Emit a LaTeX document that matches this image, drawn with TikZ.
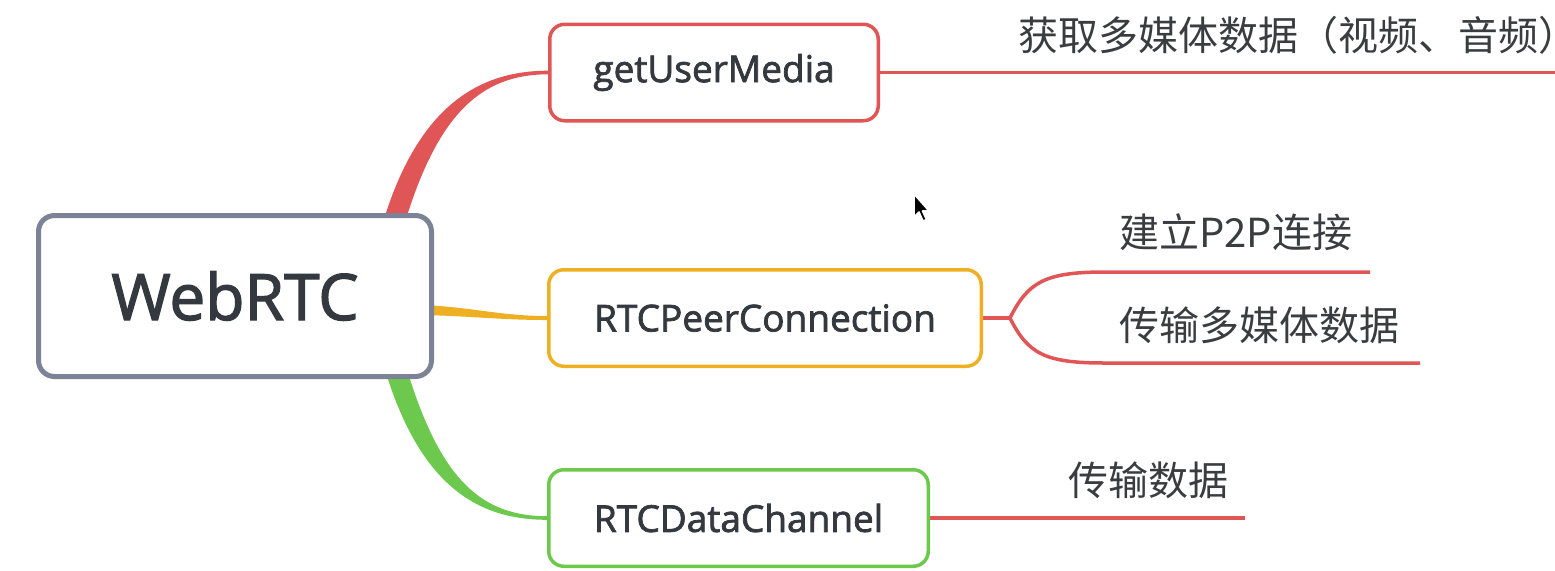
\documentclass[tikz,border=0pt]{standalone}
\usepackage{fontspec}
\setmainfont{Open Sans}[FakeBold=2]
\newfontfamily\labelfont{Open Sans}[FakeBold=2]
\newfontfamily\cjk{Noto Sans CJK SC}
\usetikzlibrary{calc,backgrounds}
\definecolor{redc}{HTML}{E05555}
\definecolor{orangec}{HTML}{EEB022}
\definecolor{greenc}{HTML}{6CC94E}
\definecolor{grayc}{HTML}{7D8397}
\definecolor{txt}{HTML}{34383F}
\definecolor{leaftxt}{HTML}{3A3C40}
\begin{document}
\begin{tikzpicture}[x=0.5pt,y=-0.5pt,
  box/.style={draw, rounded corners=7.5pt, fill=white, line width=1.75pt,
    minimum height=48.25pt, text=txt, inner sep=0pt,
    font=\labelfont\fontsize{18.5pt}{22pt}\selectfont},
  leaf/.style={anchor=base west, inner sep=0pt, text=leaftxt,
    font=\cjk\fontsize{20pt}{24pt}\selectfont},
  branch/.style={draw=redc, line width=1.75pt},
  cursorshape/.style={fill=black, draw=white, line width=0.8pt, line join=round}]
\useasboundingbox (0,0) rectangle (1555,570);

% nodes
\node[box, draw=grayc, line width=2.5pt, rounded corners=8pt,
  minimum width=196.5pt, minimum height=80.5pt,
  font=\labelfont\fontsize{32pt}{38pt}\selectfont] (root) at (235,296) {WebRTC};
\node[box, draw=redc, minimum width=164.25pt] (gum) at (714,72.5) {getUserMedia};
\node[box, draw=orangec, minimum width=216.25pt] (pc) at (765,318) {RTCPeerConnection};
\node[box, draw=greenc, minimum width=189.75pt] (dc) at (738.5,518) {RTCDataChannel};

% leaf texts
\node[leaf] (t1) at (1018,50) {获取多媒体数据（视频、音频）};
\node[leaf] (t2) at (1119,247) {建立P2P连接};
\node[leaf] (t3) at (1119,340) {传输多媒体数据};
\node[leaf] (t4) at (1068,495) {传输数据};

\coordinate (gumEnd) at (1560,72.5);
\coordinate (fork) at (1010,318);
\coordinate (pcA) at (1370,272);
\coordinate (pcB) at (1420,363);
\coordinate (dcEnd) at (1245,518);

\begin{pgfonlayer}{background}
\fill[white] (0,0) rectangle (1555,570);
% main tapered connectors
\fill[redc] ($(root.north east)+(-50,6)$) .. controls +(35,-112) and +(-70,0) ..
  ($(gum.west)+(0,-1.8)$) -- ($(gum.west)+(0,1.8)$) .. controls +(-66,0) and +(33,-106) ..
  ($(root.north east)+(-28,6)$) -- cycle;
\fill[greenc] ($(root.south east)+(-48,-6)$) .. controls +(35,112) and +(-70,0) ..
  ($(dc.west)+(0,1.8)$) -- ($(dc.west)+(0,-1.8)$) .. controls +(-66,0) and +(33,106) ..
  ($(root.south east)+(-26,-6)$) -- cycle;
\fill[orangec] ($(root.east)+(-12,9)$) .. controls +(50,2) and +(-47,0) ..
  ($(pc.west)+(0,-2)$) -- ($(pc.west)+(0,2)$) .. controls +(-47,0) and +(50,1) ..
  ($(root.east)+(-12,19)$) -- cycle;
% sub branches
\draw[branch] (gum.east) -- (gumEnd);
\draw[branch] (pc.east) -- (fork);
\draw[branch] (fork) .. controls +(18,-36) and +(-60,0) .. ($(pcA)+(-265,0)$) -- (pcA);
\draw[branch] (fork) .. controls +(18,36) and +(-60,0) .. ($(pcB)+(-315,0)$) -- (pcB);
\draw[branch] (dc.east) -- (dcEnd);
\end{pgfonlayer}

% mouse pointer
\path[cursorshape] (914,194) -- (914,217) -- (919,212) -- (923,221) -- (926.5,219.5)
  -- (922.5,211) -- (929,211) -- cycle;
\end{tikzpicture}
\end{document}
